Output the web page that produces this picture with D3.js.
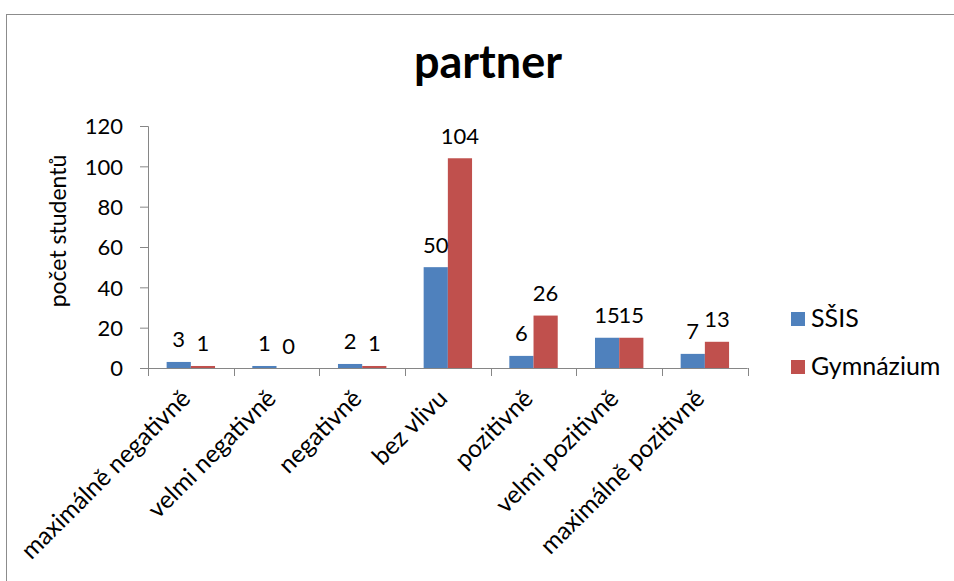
<!DOCTYPE html>
<html>
<head>
<meta charset="utf-8">
<script src="https://cdn.jsdelivr.net/npm/d3@7"></script>
<style>
  html, body { margin: 0; padding: 0; background: #fff; }
  svg { display: block; font-family: Lato, "Open Sans", sans-serif; }
</style>
</head>
<body>
<svg id="chart" width="954" height="581"></svg>
<script>
// Survey answers: influence of the partner, counts of students per school type
const categories = [
  "maximálně negativně",
  "velmi negativně",
  "negativně",
  "bez vlivu",
  "pozitivně",
  "velmi pozitivně",
  "maximálně pozitivně"
];
const seriesNames = ["SŠIS", "Gymnázium"];
const ssisValues = [3, 1, 2, 50, 6, 15, 7];
const gymValues = [1, 0, 1, 104, 26, 15, 13];
const yTicks = [0, 20, 40, 60, 80, 100, 120];
const colors = ["#4F81BD", "#C0504D"];

const valuesBySeries = [ssisValues, gymValues];
const rows = categories.map((c, i) => ({
  category: c,
  values: seriesNames.map((s, k) => ({ series: s, value: valuesBySeries[k][i] }))
}));

const svg = d3.select("#chart");
const textSize = 25;
const numberSize = 22;

// outer frame of the chart object
svg.append("rect")
  .attr("x", 6.5).attr("y", 14.5)
  .attr("width", 1200).attr("height", 1200)
  .attr("fill", "none").attr("stroke", "#8c8c8c").attr("stroke-width", 1);

const plot = { left: 148, right: 747.7, top: 126, bottom: 368 };

const x0 = d3.scaleBand().domain(categories).range([plot.left, plot.right]).padding(0);
const x1 = d3.scaleBand().domain(seriesNames).range([0, x0.bandwidth()])
  .paddingInner(0).paddingOuter(0.77);
const y = d3.scaleLinear().domain([0, 120]).range([plot.bottom, plot.top]);

// title
svg.append("text")
  .attr("x", 488).attr("y", 78)
  .attr("text-anchor", "middle")
  .attr("font-size", 45).attr("font-weight", "bold")
  .attr("fill", "#000")
  .text("partner");

// bars
const groups = svg.append("g").selectAll("g")
  .data(rows).join("g")
  .attr("transform", d => `translate(${x0(d.category)},0)`);

groups.selectAll("rect")
  .data(d => d.values).join("rect")
  .attr("x", d => x1(d.series))
  .attr("y", d => y(d.value))
  .attr("width", x1.bandwidth())
  .attr("height", d => y(0) - y(d.value))
  .attr("fill", (d, i) => colors[i]);

// value labels
groups.selectAll("text.val")
  .data(d => d.values).join("text")
  .attr("class", "val")
  .attr("x", d => x1(d.series) + x1.bandwidth() / 2)
  .attr("y", d => y(d.value) - 14.5)
  .attr("text-anchor", "middle")
  .attr("font-size", numberSize)
  .attr("fill", "#000")
  .text(d => d.value);

// y axis
const yAxis = svg.append("g")
  .attr("transform", `translate(${plot.left},0)`)
  .call(d3.axisLeft(y).tickValues(yTicks).tickSizeOuter(0).tickSize(8).tickPadding(17));
yAxis.select(".domain").attr("stroke", "#868686");
yAxis.selectAll(".tick line").attr("stroke", "#868686");
yAxis.selectAll(".tick text")
  .attr("font-size", numberSize).attr("font-family", "Lato, 'Open Sans', sans-serif")
  .attr("fill", "#000").attr("dy", "0.36em");

// x axis: line with ticks at category boundaries
const xAxisG = svg.append("g");
xAxisG.append("line")
  .attr("x1", plot.left).attr("x2", plot.right)
  .attr("y1", plot.bottom + 0.5).attr("y2", plot.bottom + 0.5)
  .attr("stroke", "#868686");
const boundaries = categories.map(c => x0(c)).concat([x0(categories[categories.length - 1]) + x0.bandwidth()]);
xAxisG.selectAll("line.tick")
  .data(boundaries).join("line")
  .attr("class", "tick")
  .attr("x1", d => Math.round(d) + 0.5).attr("x2", d => Math.round(d) + 0.5)
  .attr("y1", plot.bottom).attr("y2", plot.bottom + 8)
  .attr("stroke", "#868686");

// category labels, rotated
xAxisG.selectAll("text.cat")
  .data(categories).join("text")
  .attr("class", "cat")
  .attr("text-anchor", "end")
  .attr("font-size", 24.5)
  .attr("fill", "#000")
  .attr("transform", d => `translate(${x0(d) + x0.bandwidth() / 2 + 1},${plot.bottom + 32}) rotate(-45)`)
  .text(d => d);

// y axis title
svg.append("text")
  .attr("transform", `translate(66,231) rotate(-90)`)
  .attr("text-anchor", "middle")
  .attr("font-size", 23)
  .attr("fill", "#000")
  .text("počet studentů");

// legend
const legend = svg.append("g").selectAll("g")
  .data(seriesNames).join("g")
  .attr("transform", (d, i) => `translate(791,${312 + i * 48})`);
legend.append("rect")
  .attr("width", 14).attr("height", 14)
  .attr("fill", (d, i) => colors[i]);
legend.append("text")
  .attr("x", 20).attr("y", 15)
  .attr("font-size", textSize)
  .attr("fill", "#000")
  .text(d => d);
</script>
</body>
</html>
